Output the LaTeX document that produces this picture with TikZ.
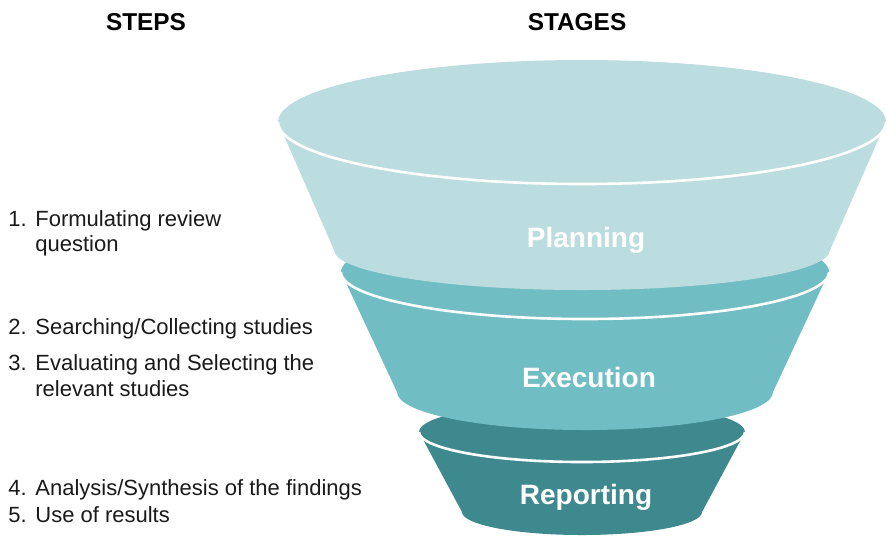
\documentclass[tikz,border=0pt]{standalone}
\usepackage{fontspec}
\setmainfont{Liberation Sans}
\usepackage{tikz}
\definecolor{planfill}{HTML}{BCDDE0}
\definecolor{execfill}{HTML}{70BDC3}
\definecolor{reportfill}{HTML}{3E898D}
\definecolor{steptextcol}{HTML}{1A1A1A}

\begin{document}
\begin{tikzpicture}[x=0.5pt,y=0.5pt,
    header/.style={anchor=base,inner sep=0pt,font=\fontsize{12.2}{14}\selectfont\bfseries},
    steptext/.style={anchor=base west,inner sep=0pt,text=steptextcol,font=\fontsize{11}{13}\selectfont},
    stagelabel/.style={text=white,inner sep=0pt,font=\fontsize{14}{16}\selectfont\bfseries}]
          \useasboundingbox (0,0) rectangle (887,-538);
          \node[header] (steps) at (146,-30) {STEPS};
          \node[header] (stages) at (577,-30) {STAGES};
          % funnel, drawn from the bottom up
          \foreach \c/\cx/\cy/\rx/\ry/\by/\brx/\bry/\lab/\ly in {reportfill/582/432/163/30/512/120/23/Reporting/497,
              execfill/585/272/244/47/392/188/38/Execution/377,
              planfill/582/122/304/62/250/248/40/Planning/240}{
            \fill[\c] ({\cx-\rx},-\cy) -- ({\cx-\brx},-\by)
              arc[start angle=180,end angle=360,x radius=\brx,y radius=\bry]
              -- ({\cx+\rx},-\cy) -- cycle;
            \fill[\c] (\cx,-\cy) ellipse[x radius=\rx,y radius=\ry];
            \draw[white,line width=1.3pt] ({\cx-\rx},-\cy)
              arc[start angle=180,end angle=360,x radius=\rx,y radius=\ry];
            \node[stagelabel] (\lab) at (\cx+4,-\ly) {\lab};}
          % steps list
          \foreach \n/\y/\t in {1/226/{Formulating review},2/334/{Searching/Collecting studies},
              3/370/{Evaluating and Selecting the},4/495/{Analysis/Synthesis of the findings},
              5/522/{Use of results}}{
            \node[steptext] (num\n) at (8,-\y) {\n.};
            \node[steptext] (item\n) at (35,-\y) {\t};}
          \node[steptext] (item1b) at (35,-251) {question};
          \node[steptext] (item3b) at (35,-396) {relevant studies};
        \end{tikzpicture}
\end{document}
